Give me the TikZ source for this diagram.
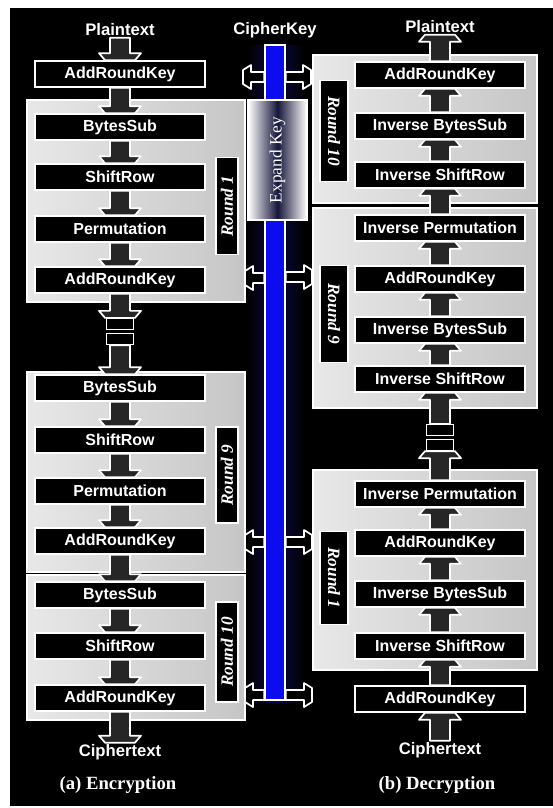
\documentclass[tikz,border=0pt]{standalone}
\usepackage{fontspec}
\setmainfont{Liberation Serif}
\setsansfont{Liberation Sans}
\usetikzlibrary{calc}
\definecolor{keyblue}{RGB}{12,12,238}
\definecolor{glow}{RGB}{10,10,70}
\definecolor{expandmid}{RGB}{22,22,60}
\tikzset{
  stage/.style={draw=white, line width=1.2pt, fill=black, text=white,
    font=\sffamily\bfseries\fontsize{12}{14}\selectfont,
    minimum width=127.5pt, minimum height=19.5pt, inner sep=0pt},
  panel/.style={draw=white, line width=1.2pt, left color=gray!18, right color=gray!45},
  roundtag/.style={draw=white, line width=1.2pt, fill=black, text=white,
    font=\rmfamily\bfseries\itshape\fontsize{13}{15}\selectfont, inner sep=0pt},
  gapbox/.style={draw=white, line width=1.2pt, fill=black,
    minimum width=20pt, minimum height=8pt, inner sep=0pt},
  iolabel/.style={text=white, font=\sffamily\bfseries\fontsize{12.5}{14}\selectfont, inner sep=1pt},
  caption/.style={text=white, font=\rmfamily\bfseries\fontsize{14}{16}\selectfont},
  expand/.style={draw=white, line width=1.2pt, left color=white, right color=white,
    middle color=expandmid, text=white, font=\rmfamily\fontsize{13}{15}\selectfont, inner sep=0pt},
  blockarrow/.style={draw=white, line width=1.3pt, fill=black!85, line join=round},
}
% hollow arrow, #3 = 1 points down, -1 points up
\newcommand\vflow[3]{%
  \draw[blockarrow] ($(#1)+(-10,0)$) -- ($(#2)+(-10,0)+#3*(0,-7)$) -- ($(#2)+(-21,0)+#3*(0,-7)$)
    -- ($(#2)+(-15,0)$) -- ($(#2)+(15,0)$) -- ($(#2)+(21,0)+#3*(0,-7)$)
    -- ($(#2)+(10,0)+#3*(0,-7)$) -- ($(#1)+(10,0)$) -- cycle;}
% key arrow, #3 = 1 points right, -1 points left
\newcommand\hflow[3]{%
  \draw[blockarrow, fill=black] ($(#1)+(0,-5)$) -- ($(#2)+(0,-5)+#3*(-8,0)$) -- ($(#2)+(0,-12)+#3*(-8,0)$)
    -- ($(#2)+(0,-7)$) -- ($(#2)+(0,7)$) -- ($(#2)+(0,12)+#3*(-8,0)$)
    -- ($(#2)+(0,5)+#3*(-8,0)$) -- ($(#1)+(0,5)$) -- cycle;}
\begin{document}
\begin{tikzpicture}[x=0.75pt,y=0.75pt,yscale=-1,xscale=1]
\useasboundingbox (0,0) rectangle (553,808);
\fill[white] (0,0) rectangle (553,808);
\fill[black] (10,8) rectangle (553,806);
\shade[left color=black, right color=glow] (247,45) rectangle (275,702);
\shade[left color=glow, right color=black] (275,45) rectangle (305,702);

\node[panel, minimum width=163.5pt, minimum height=151.5pt] (encP1) at (136,201) {};
\node[panel, minimum width=163.5pt, minimum height=150pt] (encP9) at (136,472) {};
\node[panel, minimum width=163.5pt, minimum height=108.75pt] (encP10) at (136,647.5) {};
\node[panel, minimum width=168pt, minimum height=111pt] (decP10) at (425,129) {};
\node[panel, minimum width=168pt, minimum height=150pt] (decP9) at (425,308) {};
\node[panel, minimum width=168pt, minimum height=150pt] (decP1) at (425,570) {};

\node[iolabel] (ePlain) at (120,30) {Plaintext};
\node[stage] (eARK0) at (120,74) {AddRoundKey};
\node[stage] (eBS1) at (120,127) {BytesSub};
\node[stage] (eSR1) at (120,177) {ShiftRow};
\node[stage] (ePM1) at (120,229) {Permutation};
\node[stage] (eARK1) at (120,280) {AddRoundKey};
\node[gapbox] (eGapA) at (120,324) {};
\node[gapbox] (eGapB) at (120,339) {};
\node[stage] (eBS9) at (120,388) {BytesSub};
\node[stage] (eSR9) at (120,440) {ShiftRow};
\node[stage] (ePM9) at (120,491) {Permutation};
\node[stage] (eARK9) at (120,541) {AddRoundKey};
\node[stage] (eBS10) at (120,595) {BytesSub};
\node[stage] (eSR10) at (120,646) {ShiftRow};
\node[stage] (eARK10) at (120,698) {AddRoundKey};
\node[iolabel] (eCipher) at (120,752) {Ciphertext};
\node[caption] (eCap) at (118,785) {(a) Encryption};
\node[roundtag, rotate=90, minimum width=73pt, minimum height=16.5pt] (eTag1) at (227,206) {Round 1};
\node[roundtag, rotate=90, minimum width=72pt, minimum height=16.5pt] (eTag9) at (227,475) {Round 9};
\node[roundtag, rotate=90, minimum width=75pt, minimum height=16.5pt] (eTag10) at (227,652) {Round 10};

\node[iolabel] (dPlain) at (440,27) {Plaintext};
\node[stage] (dARK10) at (440,75) {AddRoundKey};
\node[stage] (dIBS10) at (440,126) {Inverse BytesSub};
\node[stage] (dISR10) at (440,175) {Inverse ShiftRow};
\node[stage] (dIPM9) at (440,228) {Inverse Permutation};
\node[stage] (dARK9) at (440,279) {AddRoundKey};
\node[stage] (dIBS9) at (440,330) {Inverse BytesSub};
\node[stage] (dISR9) at (440,379) {Inverse ShiftRow};
\node[gapbox] (dGapA) at (440,430) {};
\node[gapbox] (dGapB) at (440,445) {};
\node[stage] (dIPM1) at (440,494) {Inverse Permutation};
\node[stage] (dARK1) at (440,543) {AddRoundKey};
\node[stage] (dIBS1) at (440,594) {Inverse BytesSub};
\node[stage] (dISR1) at (440,646) {Inverse ShiftRow};
\node[stage] (dARK0) at (440,699) {AddRoundKey};
\node[iolabel] (dCipher) at (440,750) {Ciphertext};
\node[caption] (dCap) at (437,785) {(b) Decryption};
\node[roundtag, rotate=-90, minimum width=76pt, minimum height=21pt] (dTag10) at (334,131) {Round 10};
\node[roundtag, rotate=-90, minimum width=73pt, minimum height=21pt] (dTag9) at (334,314) {Round 9};
\node[roundtag, rotate=-90, minimum width=70pt, minimum height=21pt] (dTag1) at (334,578) {Round 1};

\node[iolabel] (keyIn) at (275,30) {CipherKey};
\node[draw=white, line width=1.2pt, fill=keyblue, minimum width=15pt, minimum height=491pt, inner sep=0pt] (keyBar) at (275,372.5) {};
\node[expand, minimum width=44pt, minimum height=90pt] (expKey) at (277.5,160) {\rotatebox{90}{Expand Key}};

\vflow{ePlain.south}{eARK0.north}{1}
\vflow{eARK0.south}{eBS1.north}{1}
\vflow{eBS1.south}{eSR1.north}{1}
\vflow{eSR1.south}{ePM1.north}{1}
\vflow{ePM1.south}{eARK1.north}{1}
\vflow{eARK1.south}{eGapA.north}{1}
\vflow{eGapB.south}{eBS9.north}{1}
\vflow{eBS9.south}{eSR9.north}{1}
\vflow{eSR9.south}{ePM9.north}{1}
\vflow{ePM9.south}{eARK9.north}{1}
\vflow{eARK9.south}{eBS10.north}{1}
\vflow{eBS10.south}{eSR10.north}{1}
\vflow{eSR10.south}{eARK10.north}{1}
\vflow{eARK10.south}{eCipher.north}{1}

\vflow{dCipher.north}{dARK0.south}{-1}
\vflow{dARK0.north}{dISR1.south}{-1}
\vflow{dISR1.north}{dIBS1.south}{-1}
\vflow{dIBS1.north}{dARK1.south}{-1}
\vflow{dARK1.north}{dIPM1.south}{-1}
\vflow{dIPM1.north}{dGapB.south}{-1}
\vflow{dGapA.north}{dISR9.south}{-1}
\vflow{dISR9.north}{dIBS9.south}{-1}
\vflow{dIBS9.north}{dARK9.south}{-1}
\vflow{dARK9.north}{dIPM9.south}{-1}
\vflow{dIPM9.north}{dISR10.south}{-1}
\vflow{dISR10.north}{dIBS10.south}{-1}
\vflow{dIBS10.north}{dARK10.south}{-1}
\vflow{dARK10.north}{dPlain.south}{-1}

\coordinate (kL1) at (243,77);
\coordinate (kR1) at (311,77);
\coordinate (kL2) at (245,278);
\coordinate (kR2) at (312,277);
\coordinate (kL3) at (245,542);
\coordinate (kR3) at (312,542);
\coordinate (kL4) at (245,695);
\coordinate (kR4) at (312,695);
\hflow{keyBar.west |- kL1}{kL1}{-1}
\hflow{keyBar.east |- kR1}{kR1}{1}
\hflow{keyBar.west |- kL2}{kL2}{-1}
\hflow{keyBar.east |- kR2}{kR2}{1}
\hflow{keyBar.west |- kL3}{kL3}{-1}
\hflow{keyBar.east |- kR3}{kR3}{1}
\hflow{keyBar.west |- kL4}{kL4}{-1}
\hflow{keyBar.east |- kR4}{kR4}{1}
\end{tikzpicture}
\end{document}
